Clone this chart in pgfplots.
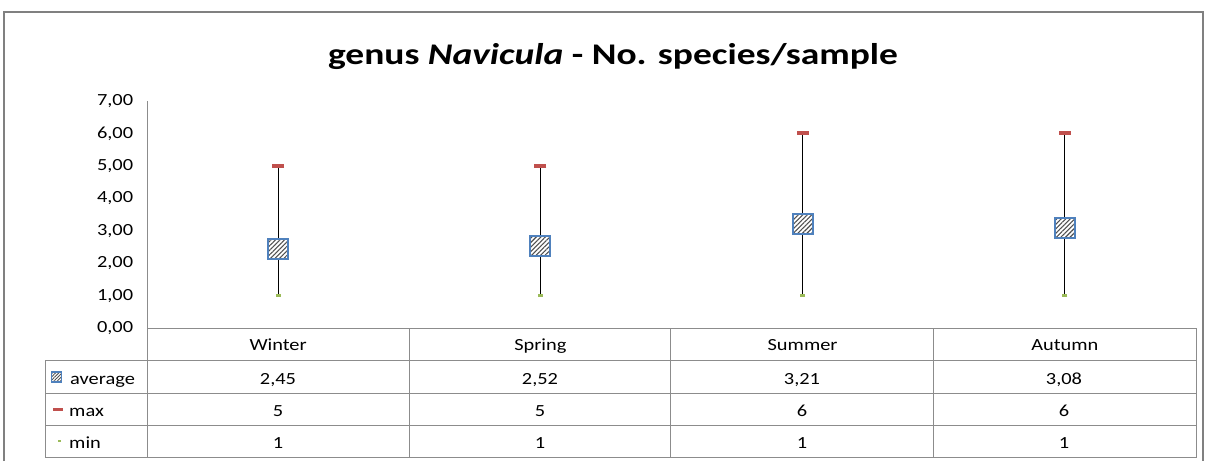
\documentclass[border=0pt]{standalone}
\usepackage{pgfplots}
\pgfplotsset{compat=1.18}
\usepackage{pgfplotstable}
\usepackage{fontspec}
\setmainfont{Carlito}
\usetikzlibrary{patterns.meta}
\definecolor{xlred}{HTML}{C0504D}
\definecolor{xlgreen}{HTML}{9BBB59}
\definecolor{xlblue}{HTML}{4F81BD}
\definecolor{gridgray}{HTML}{8C8C8C}
\definecolor{framegray}{HTML}{808080}
\definecolor{hatch}{HTML}{505050}

\pgfplotstableread{
x avg max min
0 2.45 5 1
1 2.52 5 1
2 3.21 6 1
3 3.08 6 1
}\datatab

\newcommand\tabfont{\fontsize{17}{20}\selectfont}

\begin{document}
\begin{tikzpicture}[x=1pt,y=1pt]
\useasboundingbox (0,0) rectangle (1205,461);
\draw[framegray, line width=1.6pt] (4,0) -- (4,449) -- (1203,449) -- (1203,0);
\node[anchor=base, xscale=1.25, font=\fontsize{30}{36}\selectfont\bfseries] at (613,396) {genus \textit{Navicula} - No. species/sample};
\begin{axis}[
  at={(147pt,133pt)}, anchor=south west,
  scale only axis, width=1049pt, height=227pt,
  xmin=-0.5, xmax=3.5, ymin=0, ymax=7,
  axis x line*=bottom, axis y line*=left,
  axis line style={gridgray, line width=0.75pt},
  clip=false,
  ytick={0,1,2,3,4,5,6,7},
  xtick={0,1,2,3},
  xticklabels={Winter,Spring,Summer,Autumn},
  major tick length=0pt,
  /pgf/number format/fixed,
  /pgf/number format/fixed zerofill,
  /pgf/number format/precision=2,
  /pgf/number format/use comma,
  /pgf/number format/assume math mode=true,
  yticklabel style={font=\tabfont, xscale=1.2, anchor=east, xshift=-8pt},
  xticklabel style={font=\tabfont, xscale=1.2, anchor=base, yshift=-22pt},
]
\addplot[black, line width=0.8pt] coordinates {(0,1) (0,5)};
\addplot[black, line width=0.8pt] coordinates {(1,1) (1,5)};
\addplot[black, line width=0.8pt] coordinates {(2,1) (2,6)};
\addplot[black, line width=0.8pt] coordinates {(3,1) (3,6)};
\addplot[only marks, mark=-, mark size=6pt, mark options={xlred, line width=4pt}] table[x=x,y=max]{\datatab};
\addplot[only marks, mark=-, mark size=2.5pt, mark options={xlgreen, line width=3pt}] table[x=x,y=min]{\datatab};
\addplot[only marks, mark=square*, mark size=10pt, mark options={fill=white, draw=xlblue, line width=2pt}] table[x=x,y=avg]{\datatab};
\addplot[only marks, mark=square*, mark size=10pt, mark options={draw=xlblue, line width=2pt, pattern={Lines[angle=45,distance=3.2pt,line width=1.1pt]}, pattern color=hatch}] table[x=x,y=avg]{\datatab};
\end{axis}
% data table
\begin{scope}[gridgray, line width=0.75pt]
\draw (45,101) -- (1196,101);
\draw (45,68) -- (1196,68);
\draw (45,36) -- (1196,36);
\draw (45,3.5) -- (1196,3.5);
\draw (45,101) -- (45,3.5);
\draw (147,133) -- (147,3.5);
\draw (409,133) -- (409,3.5);
\draw (670,133) -- (670,3.5);
\draw (933,133) -- (933,3.5);
\draw (1196,133) -- (1196,3.5);
\end{scope}
\begin{scope}[every node/.style={font=\tabfont, xscale=1.2, anchor=base, inner sep=0pt}]
\node at (278,77) {2,45};
\node at (540,77) {2,52};
\node at (802,77) {3,21};
\node at (1064,77) {3,08};
\node at (278,45) {5};
\node at (540,45) {5};
\node at (802,45) {6};
\node at (1064,45) {6};
\node at (278,12.5) {1};
\node at (540,12.5) {1};
\node at (802,12.5) {1};
\node at (1064,12.5) {1};
\node[anchor=base west] at (70,77) {average};
\node[anchor=base west] at (69,45) {max};
\node[anchor=base west] at (69,12.5) {min};
\end{scope}
% legend keys
\fill[white] (51.5,79) rectangle (61.5,89);
\path[pattern={Lines[angle=45,distance=2.3pt,line width=0.8pt]}, pattern color=hatch] (51.5,79) rectangle (61.5,89);
\draw[xlblue, line width=1.2pt] (51.5,79) rectangle (61.5,89);
\fill[xlred] (53,50.5) rectangle (63,53.5);
\fill[xlgreen] (58,18.8) rectangle (60.5,21.3);
\end{tikzpicture}
\end{document}
